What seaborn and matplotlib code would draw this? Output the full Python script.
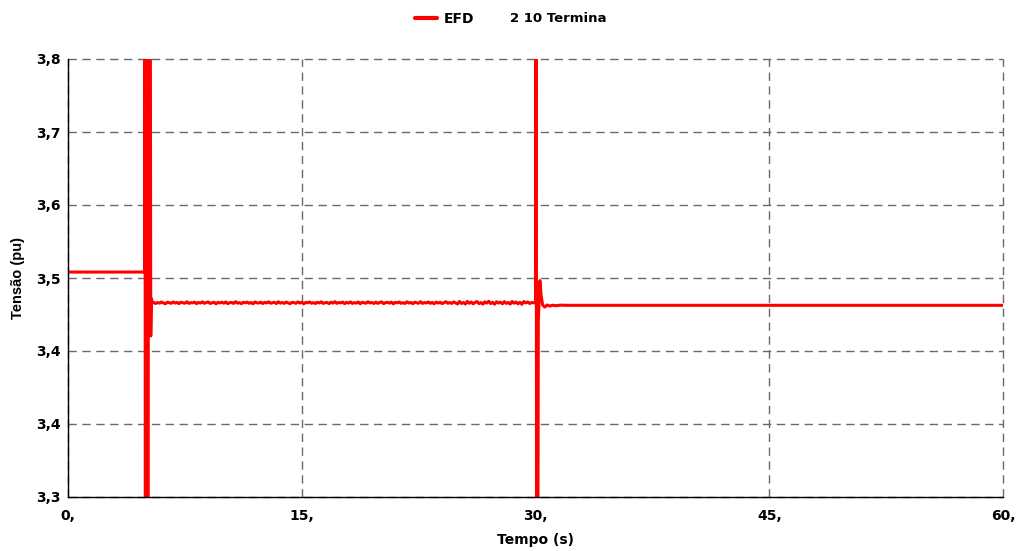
import numpy as np
import pandas as pd
import matplotlib
matplotlib.use("Agg")
import matplotlib.pyplot as plt
import seaborn as sns

# ---- data ----
pre_t = [0.0, 4.93]
pre_v = [3.5568, 3.5568]

# fault transient near t = 5 s (clipped oscillation)
tr1_t = [4.94, 4.97, 5.01, 5.05, 5.09, 5.12, 5.17, 5.21, 5.25, 5.31, 5.35, 5.40]
tr1_v = [4.30, 2.60, 4.30, 2.60, 4.30, 2.60, 4.30, 3.49, 4.30, 3.4838, 3.5265, 3.5215]

# noisy steady level between the events (sampled every 0.125 s from 5.5 s)
noisy_start = 5.5
noisy_step = 0.125
noisy_v = [
    3.5222, 3.5209, 3.5220, 3.5213, 3.5226, 3.5215, 3.5206, 3.5223, 3.5218, 3.5211,
    3.5227, 3.5214, 3.5221, 3.5208, 3.5224, 3.5217, 3.5212, 3.5229, 3.5210, 3.5219,
    3.5216, 3.5225, 3.5207, 3.5221, 3.5214, 3.5228, 3.5211, 3.5220, 3.5226, 3.5209,
    3.5217, 3.5223, 3.5205, 3.5222, 3.5215, 3.5224, 3.5212, 3.5227, 3.5208, 3.5218,
    3.5221, 3.5210, 3.5230, 3.5213, 3.5219, 3.5207, 3.5223, 3.5216, 3.5225, 3.5211,
    3.5220, 3.5206, 3.5226, 3.5217, 3.5214, 3.5224, 3.5209, 3.5222, 3.5215, 3.5228,
    3.5212, 3.5218, 3.5223, 3.5208, 3.5229, 3.5213, 3.5220, 3.5210, 3.5225, 3.5216,
    3.5207, 3.5222, 3.5219, 3.5211, 3.5227, 3.5214, 3.5224, 3.5205, 3.5221, 3.5217,
    3.5226, 3.5212, 3.5219, 3.5209, 3.5223, 3.5215, 3.5228, 3.5210, 3.5218, 3.5221,
    3.5208, 3.5224, 3.5213, 3.5230, 3.5211, 3.5220, 3.5216, 3.5225, 3.5207, 3.5222,
    3.5214, 3.5227, 3.5210, 3.5219, 3.5213, 3.5226, 3.5206, 3.5223, 3.5217, 3.5212,
    3.5229, 3.5215, 3.5221, 3.5209, 3.5224, 3.5211, 3.5220, 3.5227, 3.5208, 3.5218,
    3.5223, 3.5213, 3.5225, 3.5205, 3.5222, 3.5216, 3.5226, 3.5211, 3.5219, 3.5209,
    3.5228, 3.5214, 3.5221, 3.5207, 3.5224, 3.5217, 3.5212, 3.5230, 3.5210, 3.5220,
    3.5215, 3.5226, 3.5211, 3.5221, 3.5206, 3.5225, 3.5214, 3.5223, 3.5208, 3.5218,
    3.5229, 3.5212, 3.5220, 3.5210, 3.5227, 3.5216, 3.5204, 3.5232, 3.5209, 3.5221,
    3.5203, 3.5233, 3.5211, 3.5226, 3.5205, 3.5222, 3.5231, 3.5207, 3.5220, 3.5202,
    3.5228, 3.5213, 3.5234, 3.5208, 3.5223, 3.5201, 3.5229, 3.5214, 3.5225, 3.5206,
    3.5230, 3.5210, 3.5221, 3.5203, 3.5232, 3.5212, 3.5226, 3.5205, 3.5223, 3.5200,
    3.5231, 3.5215, 3.5227, 3.5209, 3.5220, 3.5218,
]

# second event near t = 30 s
tr2_t = [30.00, 30.03, 30.09, 30.18, 30.28, 30.36, 30.46, 30.60, 30.75, 30.90, 31.10, 31.30, 31.60, 32.00, 60.00]
tr2_v = [3.5215, 4.30, 2.60, 3.500, 3.547, 3.530, 3.5190, 3.5168, 3.5192, 3.5180, 3.5189, 3.5184, 3.5190, 3.5188, 3.5188]

yticks_labels = ["3,3", "3,4", "3,4", "3,5", "3,6", "3,7", "3,8"]
xticks_vals = [0, 15, 30, 45, 60]
xticks_labels = ["0,", "15,", "30,", "45,", "60,"]

# ---- build series ----
noisy_t = list(noisy_start + noisy_step * np.arange(len(noisy_v)))
t_all = pre_t + tr1_t + noisy_t + tr2_t
v_all = pre_v + tr1_v + noisy_v + tr2_v
df = pd.DataFrame({"Tempo": t_all, "EFD": v_all})

sns.set_style("white")
plt.rcParams["font.family"] = ["DejaVu Sans"]
plt.rcParams["font.weight"] = "bold"
plt.rcParams["text.color"] = "black"
plt.rcParams["axes.labelcolor"] = "black"
plt.rcParams["xtick.color"] = "black"
plt.rcParams["ytick.color"] = "black"

fig = plt.figure(figsize=(10.16, 5.51), dpi=100)
ax = fig.add_axes([68 / 1016, 1 - 497 / 551, (1003 - 68) / 1016, (497 - 59) / 551])

sns.lineplot(data=df, x="Tempo", y="EFD", ax=ax, color="#ff0000", linewidth=2.2,
             sort=False, estimator=None, label="EFD", legend=False)

ax.set_xlim(0, 60)
ax.set_ylim(3.3, 3.8)
yt = np.linspace(3.3, 3.8, 7)
ax.set_yticks(yt)
ax.set_yticklabels(yticks_labels)
ax.set_xticks(xticks_vals)
ax.set_xticklabels(xticks_labels)

ax.grid(True, color="#6a6a6a", linestyle=(0, (6, 4)), linewidth=1.0)
for gl in ax.get_xgridlines() + ax.get_ygridlines():
    gl.set_clip_on(False)
for s in ["top", "right"]:
    ax.spines[s].set_visible(False)
for s in ["left", "bottom"]:
    ax.spines[s].set_color("black")
    ax.spines[s].set_linewidth(1.0)
    ax.spines[s].set_zorder(5)

ax.tick_params(axis="y", direction="out", length=3, width=1, color="black", pad=2,
               labelsize=10, labelcolor="black")
ax.tick_params(axis="x", direction="inout", length=8, width=1, color="black", pad=5,
               labelsize=10, labelcolor="black")
for lab in ax.get_xticklabels() + ax.get_yticklabels():
    lab.set_fontweight("bold")

ax.set_xlabel("Tempo (s)", fontsize=10, fontweight="bold", labelpad=7, color="black")
ax.set_ylabel("Tensão (pu)", fontsize=10.5, fontweight="bold", labelpad=8, color="black",
              family=["Liberation Sans", "DejaVu Sans"])

handles, labels = ax.get_legend_handles_labels()
leg = fig.legend(handles, labels, loc="center left", bbox_to_anchor=(415 / 1016, 1 - 19 / 551),
                 frameon=False, handlelength=1.6, handletextpad=0.45, borderpad=0, borderaxespad=0,
                 prop={"size": 10, "weight": "bold", "family": "DejaVu Sans"})
for line in leg.get_lines():
    line.set_linewidth(3)
for txt in leg.get_texts():
    txt.set_color("black")
fig.text(510 / 1016, 1 - 19 / 551, "2 10 Termina", fontsize=9.5, fontweight="bold",
         va="center", ha="left", color="black")

fig.savefig("out.png", dpi=100)
